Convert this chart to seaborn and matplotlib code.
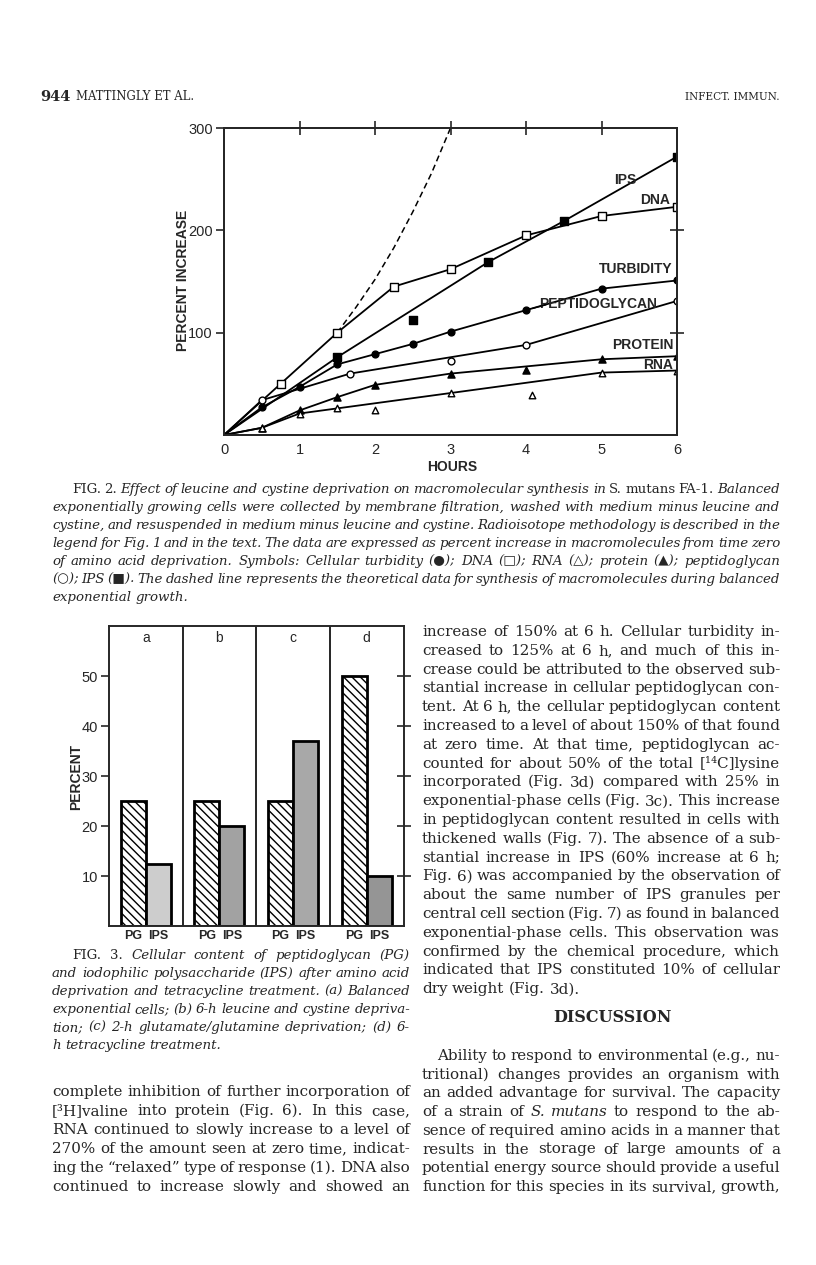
import matplotlib
matplotlib.use('Agg')
import matplotlib.pyplot as plt
import pandas as pd
import seaborn as sns

# Fig. 2 values (hours, percent increase)
dna_hours = [0, 0.75, 1.5, 2.25, 3, 4, 5, 6]
dna_pct = [0, 50, 100, 145, 162, 195, 214, 223]
ips_hours = [0, 1.5, 2.5, 3.5, 4.5, 6]
ips_pct = [0, 76, 112, 169, 209, 272]
turb_hours = [0, 0.5, 1, 1.5, 2, 2.5, 3, 4, 5, 6]
turb_pct = [0, 27, 47, 69, 79, 89, 101, 122, 143, 151]
pg_hours = [0, 0.5, 1.67, 3, 4, 6]
pg_pct = [0, 34, 60, 72, 88, 131]
prot_hours = [0, 0.5, 1, 1.5, 2, 3, 4, 5, 6]
prot_pct = [0, 7, 24, 37, 49, 60, 64, 74, 77]
rna_hours = [0, 0.5, 1, 1.5, 2, 3, 4.08, 5, 6]
rna_pct = [0, 7, 21, 26, 24, 41, 39, 61, 63]
# points the hand drawn curves do not pass through
ips_off = [2.5]
pg_off = [3]
prot_off = [4]
rna_off = [2, 4.08]
# dashed "balanced growth" curve
theory_hours = [1.5, 1.75, 2, 2.25, 2.5, 2.75, 3]
theory_pct = [100, 125, 152, 183, 218, 256, 300]

# Fig. 3 values
panels = ['a', 'b', 'c', 'd']
pg_percent = [25, 25, 25, 50]
ips_percent = [12.5, 20, 37, 10]

sns.set_style('ticks')
plt.rcParams['font.family'] = ['DejaVu Sans']
plt.rcParams['hatch.linewidth'] = 1.0
plt.rcParams['axes.linewidth'] = 1.2

SANS = ['Liberation Sans', 'DejaVu Sans']
SERIF = ['DejaVu Serif', 'DejaVu Sans']
W, H = 816, 1265
fig = plt.figure(figsize=(W / 100, H / 100), dpi=100)
renderer = fig.canvas.get_renderer()


def ftext(x, y, s, **kw):
    return fig.text(x / W, 1 - y / H, s, **kw)


# ---------------- Fig. 2 ----------------
ax = fig.add_axes([224 / W, 1 - 435 / H, 453 / W, 307 / H])
series = [
    ('DNA', dna_hours, dna_pct, [], 's', 'white', 30),
    ('IPS', ips_hours, ips_pct, ips_off, 's', 'black', 30),
    ('TURBIDITY', turb_hours, turb_pct, [], 'o', 'black', 24),
    ('PEPTIDOGLYCAN', pg_hours, pg_pct, pg_off, 'o', 'white', 24),
    ('PROTEIN', prot_hours, prot_pct, prot_off, '^', 'black', 26),
    ('RNA', rna_hours, rna_pct, rna_off, '^', 'white', 22),
]
for name, hrs, pct, off, mk, face, size in series:
    df = pd.DataFrame({'hours': hrs, 'pct': pct})
    line = df[~df['hours'].isin(off)]
    sns.lineplot(data=line, x='hours', y='pct', color='black', lw=1.3,
                 sort=False, estimator=None, ax=ax)
    pts = df[df['hours'] > 0]
    sns.scatterplot(data=pts, x='hours', y='pct', marker=mk, s=size, color=face,
                    edgecolor='black', linewidth=1.0, zorder=3, ax=ax)

sns.lineplot(x=theory_hours, y=theory_pct, color='black', lw=1.1, ax=ax)
ax.lines[-1].set_dashes([4, 2.5])

labels = {'IPS': (5.32, 249), 'DNA': (5.71, 230), 'TURBIDITY': (5.45, 162),
          'PEPTIDOGLYCAN': (4.96, 128), 'PROTEIN': (5.55, 88), 'RNA': (5.75, 68)}
for name, (hx, vy) in labels.items():
    ax.text(hx, vy, name, ha='center', va='center', fontsize=10,
            family=SANS, weight='bold')
ax.annotate('', xy=(4.05, 123), xytext=(4.3, 128),
            arrowprops=dict(arrowstyle='-', color='black', lw=1.0))

ax.set_xlim(0, 6)
ax.set_ylim(0, 300)
ax.set_xticks(range(7))
ax.set_yticks([100, 200, 300])
ax.tick_params(axis='x', length=0, pad=6, labelsize=10.5)
ax.tick_params(axis='y', direction='out', length=6, width=1.2, labelsize=10.5, pad=2)
for t in ax.get_xticklabels() + ax.get_yticklabels():
    t.set_family(SANS)
ax.set_xlabel('')
ax.set_ylabel('')

top = ax.twiny()
top.set_xlim(0, 6)
top.set_xticks([1, 2, 3, 4, 5])
top.set_xticklabels([])
top.tick_params(axis='x', direction='inout', length=10, width=1.2)
right = ax.twinx()
right.set_ylim(0, 300)
right.set_yticks([100, 200])
right.set_yticklabels([])
right.tick_params(axis='y', direction='inout', length=10, width=1.2)

ftext(183, 280, 'PERCENT INCREASE', rotation=90, ha='center', va='center',
      fontsize=10, family=SANS, weight='bold')
ftext(452, 467, 'HOURS', ha='center', va='center', fontsize=10, family=SANS,
      weight='bold')

# ---------------- Fig. 3 ----------------
ax3 = fig.add_axes([109 / W, 1 - 926 / H, 294.5 / W, 300 / H])
bars = pd.DataFrame({'panel': panels * 2,
                     'component': ['PG'] * 4 + ['IPS'] * 4,
                     'percent': pg_percent + ips_percent})
sns.barplot(data=bars, x='panel', y='percent', hue='component',
            hue_order=['PG', 'IPS'], width=0.68, palette=['white', 'white'],
            edgecolor='black', linewidth=2, errorbar=None, legend=False, ax=ax3)
for p in ax3.containers[0]:
    p.set_hatch('\\\\\\\\')
for p, shade in zip(ax3.containers[1], ['#cdcdcd', '#a2a2a2', '#a8a8a8', '#959595']):
    p.set_facecolor(shade)
for i in range(3):
    ax3.axvline(i + 0.5, color='black', lw=1.2)
for i, letter in enumerate(panels):
    ax3.text(i, 57.6, letter, ha='center', va='center', fontsize=10, family=SANS)

ax3.set_xlim(-0.5, 3.5)
ax3.set_ylim(0, 60)
ax3.set_yticks([10, 20, 30, 40, 50])
pos = []
for i in range(4):
    pos += [i - 0.17, i + 0.17]
ax3.set_xticks(pos)
ax3.set_xticklabels(['PG', 'IPS'] * 4)
ax3.tick_params(axis='x', length=0, pad=3, labelsize=9)
ax3.tick_params(axis='y', direction='out', length=6, width=1.2, labelsize=10.5, pad=2)
for t in ax3.get_xticklabels():
    t.set_family(SANS)
    t.set_weight('bold')
for t in ax3.get_yticklabels():
    t.set_family(SANS)
ax3.set_xlabel('')
ax3.set_ylabel('')
r3 = ax3.twinx()
r3.set_ylim(0, 60)
r3.set_yticks([10, 20, 30, 40, 50])
r3.set_yticklabels([])
r3.tick_params(axis='y', direction='inout', length=10, width=1.2)
ftext(76, 777, 'PERCENT', rotation=90, ha='center', va='center', fontsize=10,
      family=SANS, weight='bold')

# ---------------- page text ----------------
ftext(40, 97, '944', fontsize=10.5, family=SERIF, weight='bold', va='center')
ftext(76, 97, 'MATTINGLY ET AL.', fontsize=8.4, family=SERIF, va='center')
ftext(780, 97, 'INFECT. IMMUN.', fontsize=7.6, family=SERIF, va='center', ha='right')


def flip(base, alt):
    if not alt:
        return base
    return 'normal' if base == 'italic' else 'italic'


def words_of(line):
    out = []
    for w in line.split(' '):
        out.append((w[1:], True) if w.startswith('_') else (w, False))
    return out


def word_w(word, size, style):
    t = fig.text(0, 0, word, fontsize=size, family=SERIF, style=style)
    w = t.get_window_extent(renderer=renderer).width
    t.remove()
    return w


def ratio(lines, width, base, indent, squeeze=0.55):
    # widest line, with word spaces allowed to shrink a little
    worst = 0
    sp = (word_w('n n', 10, base) - word_w('nn', 10, base)) * squeeze
    for i, line in enumerate(lines):
        ws = words_of(line)
        total = sum(word_w(w, 10, flip(base, a)) for w, a in ws) + sp * (len(ws) - 1)
        worst = max(worst, total / (width - indent.get(i, 0)))
    return worst


def set_block(lines, x0, x1, y0, dy, size, base, indent=None, ragged=()):
    indent = indent or {}
    sp = word_w('n n', size, base) - word_w('nn', size, base)
    for i, line in enumerate(lines):
        ws = words_of(line)
        widths = [word_w(w, size, flip(base, a)) for w, a in ws]
        x = x0 + indent.get(i, 0)
        if i in ragged or len(ws) == 1:
            gap = sp
        else:
            gap = (x1 - x - sum(widths)) / (len(ws) - 1)
        y = y0 + i * dy + 4
        for (w, a), wd in zip(ws, widths):
            ftext(x, y, w, fontsize=size, family=SERIF, style=flip(base, a),
                  va='baseline', ha='left')
            x += wd + gap


cap2 = [
    '_FIG. _2. Effect of leucine and cystine deprivation on macromolecular synthesis in _S. _mutans _FA-1. Balanced',
    'exponentially growing cells were collected by membrane filtration, washed with medium minus leucine and',
    'cystine, and resuspended in medium minus leucine and cystine. Radioisotope methodology is described in the',
    'legend for Fig. 1 and in the text. The data are expressed as percent increase in macromolecules from time zero',
    'of amino acid deprivation. Symbols: Cellular turbidity (●); DNA (□); RNA (△); protein (▲); peptidoglycan',
    '(○); IPS (■). The dashed line represents the theoretical data for synthesis of macromolecules during balanced',
    'exponential growth.',
]
cap3 = [
    '_FIG. _3. Cellular content of peptidoglycan (PG)',
    'and iodophilic polysaccharide (IPS) after amino acid',
    'deprivation and tetracycline treatment. (a) Balanced',
    'exponential cells; (b) 6-h leucine and cystine depriva-',
    'tion; (c) 2-h glutamate/glutamine deprivation; (d) 6-',
    'h tetracycline treatment.',
]
left_body = [
    'complete inhibition of further incorporation of',
    '[³H]valine into protein (Fig. 6). In this case,',
    'RNA continued to slowly increase to a level of',
    '270% of the amount seen at zero time, indicat-',
    'ing the “relaxed” type of response (1). DNA also',
    'continued to increase slowly and showed an',
]
right_body = [
    'increase of 150% at 6 h. Cellular turbidity in-',
    'creased to 125% at 6 h, and much of this in-',
    'crease could be attributed to the observed sub-',
    'stantial increase in cellular peptidoglycan con-',
    'tent. At 6 h, the cellular peptidoglycan content',
    'increased to a level of about 150% of that found',
    'at zero time. At that time, peptidoglycan ac-',
    'counted for about 50% of the total [¹⁴C]lysine',
    'incorporated (Fig. 3d) compared with 25% in',
    'exponential-phase cells (Fig. 3c). This increase',
    'in peptidoglycan content resulted in cells with',
    'thickened walls (Fig. 7). The absence of a sub-',
    'stantial increase in IPS (60% increase at 6 h;',
    'Fig. 6) was accompanied by the observation of',
    'about the same number of IPS granules per',
    'central cell section (Fig. 7) as found in balanced',
    'exponential-phase cells. This observation was',
    'confirmed by the chemical procedure, which',
    'indicated that IPS constituted 10% of cellular',
    'dry weight (Fig. 3d).',
]
discussion = [
    'Ability to respond to environmental (e.g., nu-',
    'tritional) changes provides an organism with',
    'an added advantage for survival. The capacity',
    'of a strain of _S. _mutans to respond to the ab-',
    'sence of required amino acids in a manner that',
    'results in the storage of large amounts of a',
    'potential energy source should provide a useful',
    'function for this species in its survival, growth,',
]

body_r = max(ratio(left_body, 358, 'normal', {}),
             ratio(right_body[:-1], 358, 'normal', {}),
             ratio(discussion, 358, 'normal', {0: 15}))
body_size = 10 / body_r * 0.995
cap_r = max(ratio(cap2[:-1], 728, 'italic', {0: 20}),
            ratio(cap3[:-1], 358, 'italic', {0: 20}))
cap_size = 10 / cap_r * 0.995

set_block(cap2, 52, 780, 489, 18.0, cap_size, 'italic', {0: 20}, ragged=(6,))
set_block(cap3, 52, 410, 955, 18.0, cap_size, 'italic', {0: 20}, ragged=(5,))
set_block(left_body, 52, 410, 1092, 19.0, body_size, 'normal')
set_block(right_body, 422, 780, 632, 18.8, body_size, 'normal', ragged=(19,))
ftext(612, 1018, 'DISCUSSION', ha='center', va='center', fontsize=11.5,
      family=SERIF, weight='bold')
set_block(discussion, 422, 780, 1056, 18.7, body_size, 'normal', {0: 15})

fig.savefig('out.png', dpi=100, facecolor='white')
